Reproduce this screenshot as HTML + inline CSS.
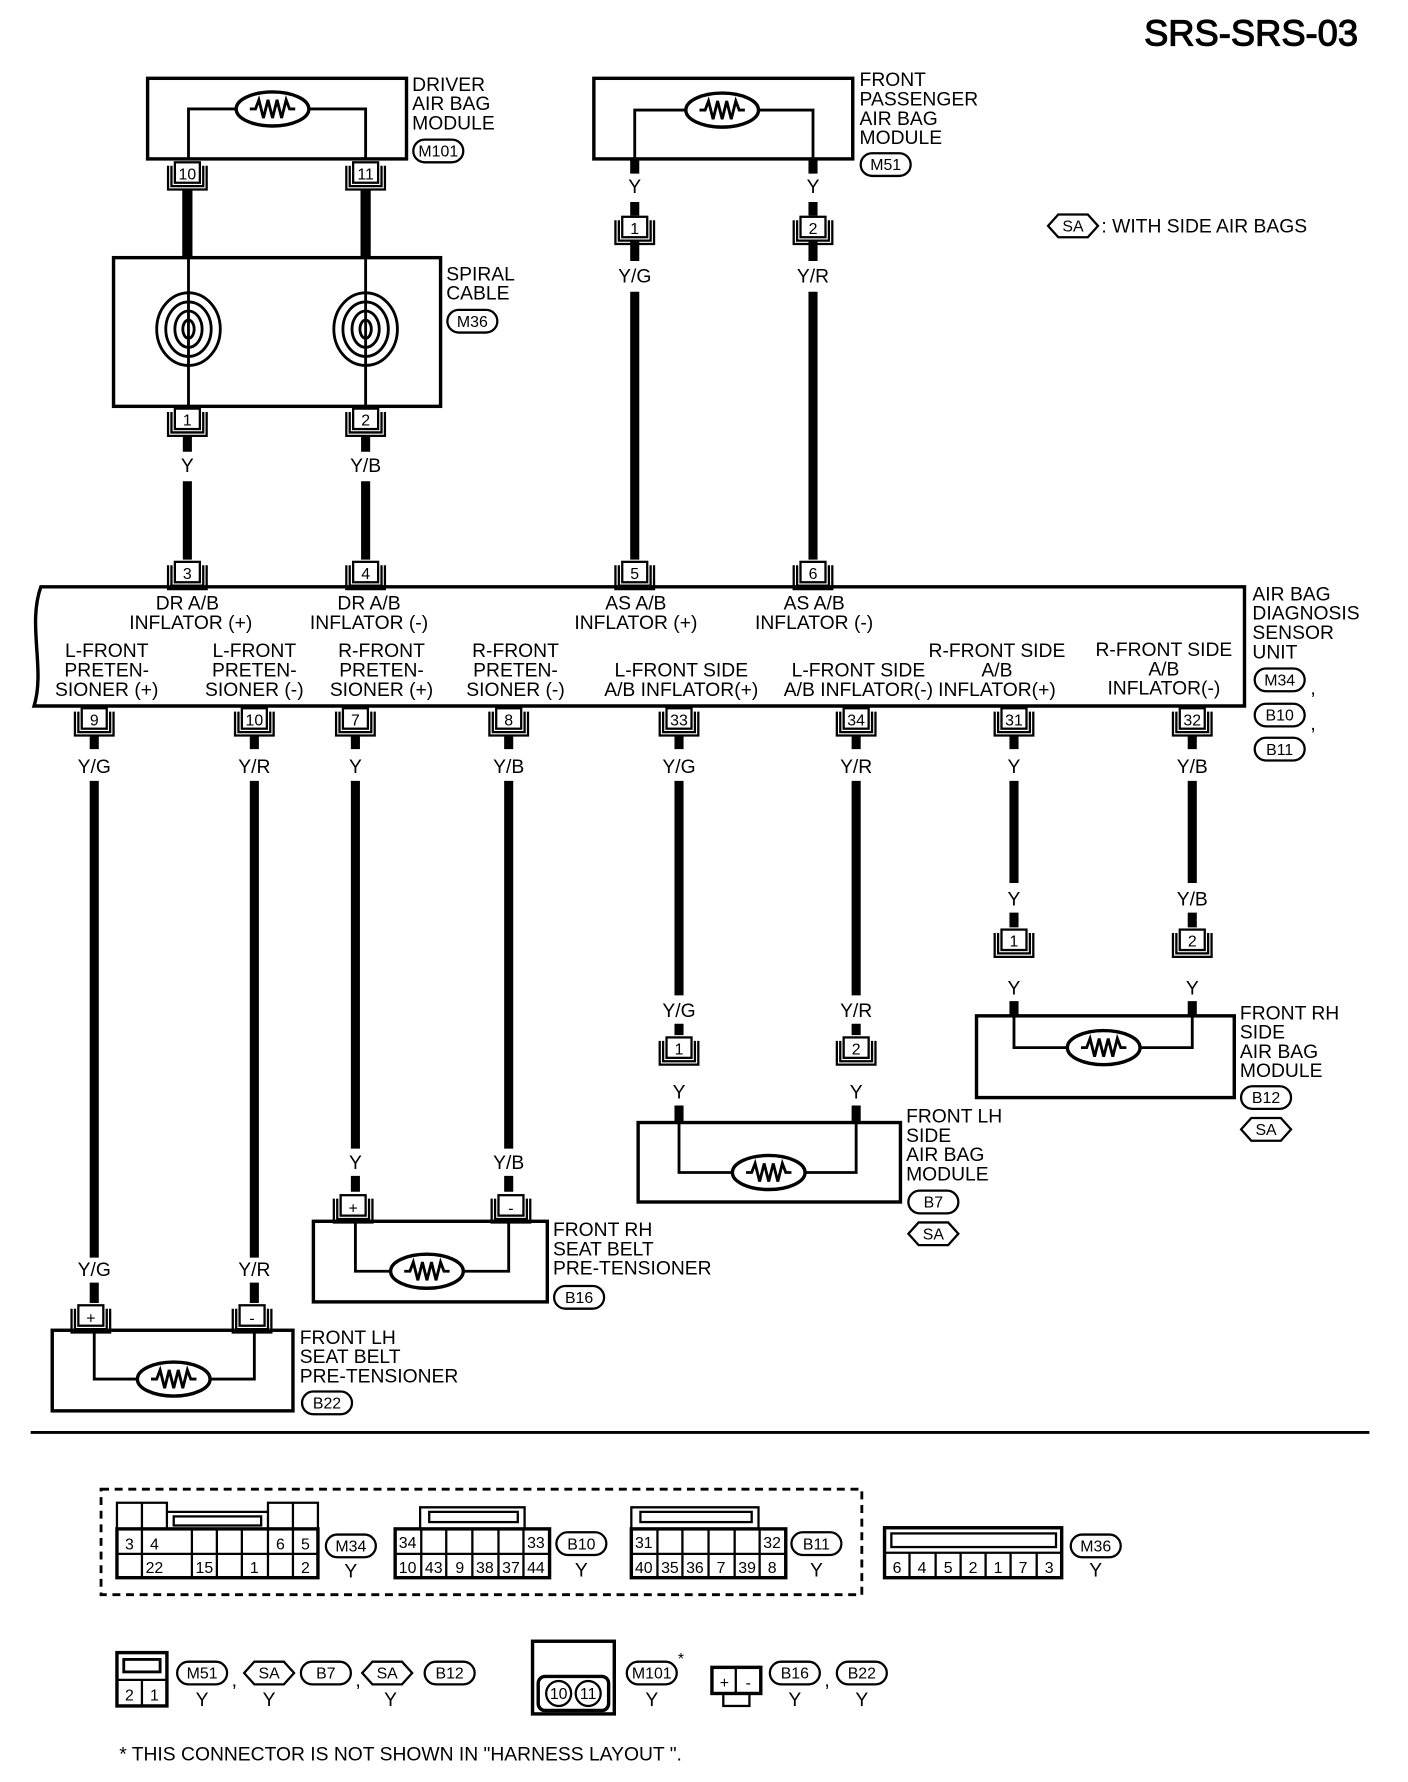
<!DOCTYPE html>
<html><head><meta charset="utf-8"><style>
html,body{margin:0;padding:0;background:#fff;}
svg{display:block;}
text{font-family:"Liberation Sans",Arial,sans-serif;font-size:17px;fill:#000;}
.m{text-anchor:middle;}
.s{font-size:14px;}
</style></head><body>
<svg width="1408" height="1782" viewBox="0 0 1240 1570" preserveAspectRatio="none" xmlns="http://www.w3.org/2000/svg">
<defs>
<g id="cn"><path d="M-17 3V24H17V3M-14 3V21H14V3" fill="none" stroke="#000" stroke-width="2"/><rect x="-11" y="0" width="22" height="18" fill="#fff" stroke="#000" stroke-width="2"/></g>
<g id="rs"><ellipse cx="0" cy="0" rx="32" ry="15" fill="#fff" stroke="#000" stroke-width="3"/><polyline points="-20,0 -15,0 -12,-8 -8,8 -4,-8 0,8 4,-8 8,8 12,-8 15,0 20,0" fill="none" stroke="#000" stroke-width="2.5"/></g>
<g id="bd"><rect x="-22" y="-10" width="44" height="20" rx="10" fill="#fff" stroke="#000" stroke-width="2"/></g>
<g id="hx"><polygon points="-22,0 -13,-10 13,-10 22,0 13,10 -13,10" fill="#fff" stroke="#000" stroke-width="2"/></g>
<g id="sp" fill="none" stroke="#000" stroke-width="2.5"><ellipse rx="28" ry="32"/><ellipse rx="20" ry="24"/><ellipse rx="12" ry="16"/><ellipse rx="5" ry="8"/></g>
</defs>
<g fill="none" stroke="#000">
<text x="1196" y="40" style="font-size:32px;text-anchor:end">SRS-SRS-03</text>
</g>
<!-- Driver module -->
<rect x="130" y="69" width="228" height="71" fill="none" stroke="#000" stroke-width="3"/>
<path d="M166 140V96H322V140" fill="none" stroke="#000" stroke-width="2.5"/>
<use href="#rs" x="240" y="96"/>
<text x="363" y="80">DRIVER</text><text x="363" y="97">AIR BAG</text><text x="363" y="114">MODULE</text>
<use href="#bd" x="386" y="133"/><text x="386" y="138" class="m s">M101</text>
<use href="#cn" x="165" y="143"/><text x="165" y="158" class="m s">10</text>
<use href="#cn" x="322" y="143"/><text x="322" y="158" class="m s">11</text>
<path d="M165 167V228M322 167V228" stroke="#000" stroke-width="9"/>
<!-- Spiral -->
<rect x="100" y="227" width="288" height="131" fill="none" stroke="#000" stroke-width="3"/>
<path d="M166 227V358M322 227V358" stroke="#000" stroke-width="2.5"/>
<use href="#sp" x="166" y="290"/><use href="#sp" x="322" y="290"/>
<text x="393" y="247">SPIRAL</text><text x="393" y="264">CABLE</text>
<use href="#bd" x="416" y="283"/><text x="416" y="288" class="m s">M36</text>
<use href="#cn" x="165" y="360"/><text x="165" y="375" class="m s">1</text>
<use href="#cn" x="322" y="360"/><text x="322" y="375" class="m s">2</text>
<path d="M165 384V398M322 384V398M165 424V493M322 424V493" stroke="#000" stroke-width="8"/>
<text x="165" y="416" class="m">Y</text><text x="322" y="416" class="m">Y/B</text>
<!-- Passenger -->
<rect x="523" y="69" width="228" height="71" fill="none" stroke="#000" stroke-width="3"/>
<path d="M559 140V97H716V140" fill="none" stroke="#000" stroke-width="2.5"/>
<use href="#rs" x="636" y="97"/>
<text x="757" y="76">FRONT</text><text x="757" y="93">PASSENGER</text><text x="757" y="110">AIR BAG</text><text x="757" y="127">MODULE</text>
<use href="#bd" x="780" y="145"/><text x="780" y="150" class="m s">M51</text>
<path d="M559 140V153M716 140V153M559 178V190M716 178V190M559 212V230M716 212V230M559 257V493M716 257V493" stroke="#000" stroke-width="8"/>
<text x="559" y="170" class="m">Y</text><text x="716" y="170" class="m">Y</text>
<use href="#cn" x="559" y="191"/><text x="559" y="206" class="m s">1</text>
<use href="#cn" x="716" y="191"/><text x="716" y="206" class="m s">2</text>
<text x="559" y="249" class="m">Y/G</text><text x="716" y="249" class="m">Y/R</text>
<use href="#hx" x="945" y="199"/><text x="945" y="204" class="m s">SA</text>
<text x="970" y="205">: WITH SIDE AIR BAGS</text>
<!-- top connectors on ASCU -->
<use href="#cn" x="165" y="495"/><text x="165" y="510" class="m s">3</text>
<use href="#cn" x="322" y="495"/><text x="322" y="510" class="m s">4</text>
<use href="#cn" x="559" y="495"/><text x="559" y="510" class="m s">5</text>
<use href="#cn" x="716" y="495"/><text x="716" y="510" class="m s">6</text>
<!-- ASCU -->
<path d="M36 517H1096V622H30C40 590 24 550 36 517Z" fill="none" stroke="#000" stroke-width="3"/>
<g class="m">
<text x="165" y="537" class="m">DR A/B</text><text x="168" y="554" class="m">INFLATOR (+)</text>
<text x="325" y="537" class="m">DR A/B</text><text x="325" y="554" class="m">INFLATOR (-)</text>
<text x="560" y="537" class="m">AS A/B</text><text x="560" y="554" class="m">INFLATOR (+)</text>
<text x="717" y="537" class="m">AS A/B</text><text x="717" y="554" class="m">INFLATOR (-)</text>
<text x="94" y="579" class="m">L-FRONT</text><text x="94" y="596" class="m">PRETEN-</text><text x="94" y="613" class="m">SIONER (+)</text>
<text x="224" y="579" class="m">L-FRONT</text><text x="224" y="596" class="m">PRETEN-</text><text x="224" y="613" class="m">SIONER (-)</text>
<text x="336" y="579" class="m">R-FRONT</text><text x="336" y="596" class="m">PRETEN-</text><text x="336" y="613" class="m">SIONER (+)</text>
<text x="454" y="579" class="m">R-FRONT</text><text x="454" y="596" class="m">PRETEN-</text><text x="454" y="613" class="m">SIONER (-)</text>
<text x="600" y="596" class="m">L-FRONT SIDE</text><text x="600" y="613" class="m">A/B INFLATOR(+)</text>
<text x="756" y="596" class="m">L-FRONT SIDE</text><text x="756" y="613" class="m">A/B INFLATOR(-)</text>
<text x="878" y="579" class="m">R-FRONT SIDE</text><text x="878" y="596" class="m">A/B</text><text x="878" y="613" class="m">INFLATOR(+)</text>
<text x="1025" y="578" class="m">R-FRONT SIDE</text><text x="1025" y="595" class="m">A/B</text><text x="1025" y="612" class="m">INFLATOR(-)</text>
</g>
<text x="1103" y="529">AIR BAG</text><text x="1103" y="546">DIAGNOSIS</text><text x="1103" y="563">SENSOR</text><text x="1103" y="580">UNIT</text>
<use href="#bd" x="1127" y="599"/><text x="1127" y="604" class="m s">M34</text><text x="1154" y="612">,</text>
<use href="#bd" x="1127" y="630"/><text x="1127" y="635" class="m s">B10</text><text x="1154" y="643">,</text>
<use href="#bd" x="1127" y="660"/><text x="1127" y="665" class="m s">B11</text>
<!-- bottom connectors -->
<use href="#cn" x="83" y="624"/><text x="83" y="639" class="m s">9</text>
<use href="#cn" x="224" y="624"/><text x="224" y="639" class="m s">10</text>
<use href="#cn" x="313" y="624"/><text x="313" y="639" class="m s">7</text>
<use href="#cn" x="448" y="624"/><text x="448" y="639" class="m s">8</text>
<use href="#cn" x="598" y="624"/><text x="598" y="639" class="m s">33</text>
<use href="#cn" x="754" y="624"/><text x="754" y="639" class="m s">34</text>
<use href="#cn" x="893" y="624"/><text x="893" y="639" class="m s">31</text>
<use href="#cn" x="1050" y="624"/><text x="1050" y="639" class="m s">32</text>
<path d="M83 648V660M224 648V660M313 648V660M448 648V660M598 648V660M754 648V660M893 648V660M1050 648V660" stroke="#000" stroke-width="8"/>
<text x="83" y="681" class="m">Y/G</text><text x="224" y="681" class="m">Y/R</text><text x="313" y="681" class="m">Y</text><text x="448" y="681" class="m">Y/B</text>
<text x="598" y="681" class="m">Y/G</text><text x="754" y="681" class="m">Y/R</text><text x="893" y="681" class="m">Y</text><text x="1050" y="681" class="m">Y/B</text>
<path d="M83 688V1108M224 688V1108M83 1130V1148M224 1130V1148
M313 688V1012M448 688V1012M313 1036V1050M448 1036V1050
M598 688V877M754 688V877M598 902V912M754 902V912M598 974V989M754 974V989
M893 688V778M1050 688V778M893 804V817M1050 804V817M893 882V895M1050 882V895" stroke="#000" stroke-width="8"/>
<!-- B22 -->
<text x="83" y="1124" class="m">Y/G</text><text x="224" y="1124" class="m">Y/R</text>
<use href="#cn" x="80" y="1150"/><text x="80" y="1166" class="m s">+</text>
<use href="#cn" x="222" y="1150"/><text x="222" y="1166" class="m s">-</text>
<rect x="46" y="1172" width="212" height="71" fill="none" stroke="#000" stroke-width="3"/>
<path d="M83 1172V1215H224V1172" fill="none" stroke="#000" stroke-width="2.5"/>
<use href="#rs" x="153" y="1215"/>
<text x="264" y="1184">FRONT LH</text><text x="264" y="1201">SEAT BELT</text><text x="264" y="1218">PRE-TENSIONER</text>
<use href="#bd" x="288" y="1236"/><text x="288" y="1241" class="m s">B22</text>
<!-- B16 -->
<text x="313" y="1030" class="m">Y</text><text x="448" y="1030" class="m">Y/B</text>
<use href="#cn" x="311" y="1053"/><text x="311" y="1069" class="m s">+</text>
<use href="#cn" x="450" y="1053"/><text x="450" y="1069" class="m s">-</text>
<rect x="276" y="1076" width="206" height="71" fill="none" stroke="#000" stroke-width="3"/>
<path d="M313 1076V1120H448V1076" fill="none" stroke="#000" stroke-width="2.5"/>
<use href="#rs" x="376" y="1120"/>
<text x="487" y="1089">FRONT RH</text><text x="487" y="1106">SEAT BELT</text><text x="487" y="1123">PRE-TENSIONER</text>
<use href="#bd" x="510" y="1143"/><text x="510" y="1148" class="m s">B16</text>
<!-- B7 -->
<text x="598" y="896" class="m">Y/G</text><text x="754" y="896" class="m">Y/R</text>
<use href="#cn" x="598" y="914"/><text x="598" y="929" class="m s">1</text>
<use href="#cn" x="754" y="914"/><text x="754" y="929" class="m s">2</text>
<text x="598" y="968" class="m">Y</text><text x="754" y="968" class="m">Y</text>
<rect x="562" y="989" width="231" height="70" fill="none" stroke="#000" stroke-width="3"/>
<path d="M598 989V1033H754V989" fill="none" stroke="#000" stroke-width="2.5"/>
<use href="#rs" x="677" y="1033"/>
<text x="798" y="989">FRONT LH</text><text x="798" y="1006">SIDE</text><text x="798" y="1023">AIR BAG</text><text x="798" y="1040">MODULE</text>
<use href="#bd" x="822" y="1059"/><text x="822" y="1064" class="m s">B7</text>
<use href="#hx" x="822" y="1087"/><text x="822" y="1092" class="m s">SA</text>
<!-- B12 -->
<text x="893" y="798" class="m">Y</text><text x="1050" y="798" class="m">Y/B</text>
<use href="#cn" x="893" y="819"/><text x="893" y="834" class="m s">1</text>
<use href="#cn" x="1050" y="819"/><text x="1050" y="834" class="m s">2</text>
<text x="893" y="876" class="m">Y</text><text x="1050" y="876" class="m">Y</text>
<rect x="860" y="895" width="227" height="72" fill="none" stroke="#000" stroke-width="3"/>
<path d="M893 895V923H1050V895" fill="none" stroke="#000" stroke-width="2.5"/>
<use href="#rs" x="972" y="923"/>
<text x="1092" y="898">FRONT RH</text><text x="1092" y="915">SIDE</text><text x="1092" y="932">AIR BAG</text><text x="1092" y="949">MODULE</text>
<use href="#bd" x="1115" y="967"/><text x="1115" y="972" class="m s">B12</text>
<use href="#hx" x="1115" y="995"/><text x="1115" y="1000" class="m s">SA</text>
<!-- separator -->
<path d="M27 1262H1206" stroke="#000" stroke-width="2.5"/>
<!-- connector views -->
<rect x="89" y="1312" width="670" height="93" fill="none" stroke="#000" stroke-width="2.5" stroke-dasharray="7,5"/>
<g fill="none" stroke="#000" stroke-width="2">
<!-- M34 -->
<rect x="103" y="1347" width="177" height="43" stroke-width="3"/>
<path d="M103 1347V1324H147V1347M236 1347V1324H280V1347M125 1324V1390M258 1324V1390M147 1332H236V1347M103 1369H280M169 1347V1390M191 1347V1390M213 1347V1390M236 1347V1390"/>
<rect x="153" y="1336" width="77" height="8"/>
<!-- B10 -->
<rect x="348" y="1347" width="136" height="43" stroke-width="3"/>
<path d="M370 1347V1328H462V1347M348 1369H484M371 1347V1390M393 1347V1390M416 1347V1390M439 1347V1390M461 1347V1390"/>
<rect x="378" y="1332" width="78" height="9"/>
<!-- B11 -->
<rect x="556" y="1347" width="136" height="43" stroke-width="3"/>
<path d="M556 1347V1328H668V1347M556 1369H692M579 1347V1390M601 1347V1390M624 1347V1390M647 1347V1390M669 1347V1390"/>
<rect x="564" y="1332" width="98" height="9"/>
<!-- M36 -->
<rect x="779" y="1346" width="156" height="44" stroke-width="3"/>
<rect x="785" y="1351" width="145" height="12"/>
<path d="M779 1368H935M801 1368V1390M824 1368V1390M846 1368V1390M868 1368V1390M890 1368V1390M913 1368V1390"/>
<!-- 2 pin -->
<rect x="103" y="1456" width="44" height="47" stroke-width="3"/>
<rect x="109" y="1462" width="32" height="11" stroke-width="2.5"/>
<path d="M103 1480H147M125 1480V1503"/>
<!-- M101 -->
<rect x="469" y="1446" width="72" height="64" stroke-width="3"/>
<rect x="474" y="1477" width="62" height="30" rx="6" stroke-width="3"/>
<circle cx="492" cy="1492" r="11"/><circle cx="518" cy="1492" r="11"/>
<!-- +/- -->
<rect x="627" y="1469" width="43" height="23" stroke-width="3"/>
<path d="M648 1469V1492"/>
<rect x="637" y="1492" width="23" height="11"/>
</g>
<g class="s">
<text x="114" y="1365" class="m s">3</text><text x="136" y="1365" class="m s">4</text><text x="247" y="1365" class="m s">6</text><text x="269" y="1365" class="m s">5</text>
<text x="136" y="1386" class="m s">22</text><text x="180" y="1386" class="m s">15</text><text x="224" y="1386" class="m s">1</text><text x="269" y="1386" class="m s">2</text>
<text x="359" y="1364" class="m s">34</text><text x="472" y="1364" class="m s">33</text>
<text x="359" y="1386" class="m s">10</text><text x="382" y="1386" class="m s">43</text><text x="405" y="1386" class="m s">9</text><text x="427" y="1386" class="m s">38</text><text x="450" y="1386" class="m s">37</text><text x="472" y="1386" class="m s">44</text>
<text x="567" y="1364" class="m s">31</text><text x="680" y="1364" class="m s">32</text>
<text x="567" y="1386" class="m s">40</text><text x="590" y="1386" class="m s">35</text><text x="612" y="1386" class="m s">36</text><text x="635" y="1386" class="m s">7</text><text x="658" y="1386" class="m s">39</text><text x="680" y="1386" class="m s">8</text>
<text x="790" y="1386" class="m s">6</text><text x="812" y="1386" class="m s">4</text><text x="835" y="1386" class="m s">5</text><text x="857" y="1386" class="m s">2</text><text x="879" y="1386" class="m s">1</text><text x="901" y="1386" class="m s">7</text><text x="924" y="1386" class="m s">3</text>
<text x="114" y="1498" class="m s">2</text><text x="136" y="1498" class="m s">1</text>
<text x="492" y="1497" class="m s">10</text><text x="518" y="1497" class="m s">11</text>
<text x="638" y="1487" class="m s">+</text><text x="659" y="1487" class="m s">-</text>
</g>
<use href="#bd" x="309" y="1362"/><text x="309" y="1367" class="m s">M34</text><text x="309" y="1390" class="m">Y</text>
<use href="#bd" x="512" y="1360"/><text x="512" y="1365" class="m s">B10</text><text x="512" y="1389" class="m">Y</text>
<use href="#bd" x="719" y="1360"/><text x="719" y="1365" class="m s">B11</text><text x="719" y="1389" class="m">Y</text>
<use href="#bd" x="965" y="1362"/><text x="965" y="1367" class="m s">M36</text><text x="965" y="1389" class="m">Y</text>
<use href="#bd" x="178" y="1474"/><text x="178" y="1479" class="m s">M51</text><text x="178" y="1503" class="m">Y</text>
<text x="204" y="1486">,</text>
<use href="#hx" x="237" y="1474"/><text x="237" y="1479" class="m s">SA</text><text x="237" y="1503" class="m">Y</text>
<use href="#bd" x="287" y="1474"/><text x="287" y="1479" class="m s">B7</text>
<text x="313" y="1486">,</text>
<use href="#hx" x="341" y="1474"/><text x="341" y="1479" class="m s">SA</text><text x="344" y="1503" class="m">Y</text>
<use href="#bd" x="396" y="1474"/><text x="396" y="1479" class="m s">B12</text>
<use href="#bd" x="574" y="1474"/><text x="574" y="1479" class="m s">M101</text><text x="597" y="1466" class="s">*</text><text x="574" y="1503" class="m">Y</text>
<use href="#bd" x="700" y="1474"/><text x="700" y="1479" class="m s">B16</text><text x="700" y="1503" class="m">Y</text>
<text x="726" y="1486">,</text>
<use href="#bd" x="759" y="1474"/><text x="759" y="1479" class="m s">B22</text><text x="759" y="1503" class="m">Y</text>
<text x="105" y="1551">* THIS CONNECTOR IS NOT SHOWN IN "HARNESS LAYOUT ".</text>
</svg>
</body></html>
